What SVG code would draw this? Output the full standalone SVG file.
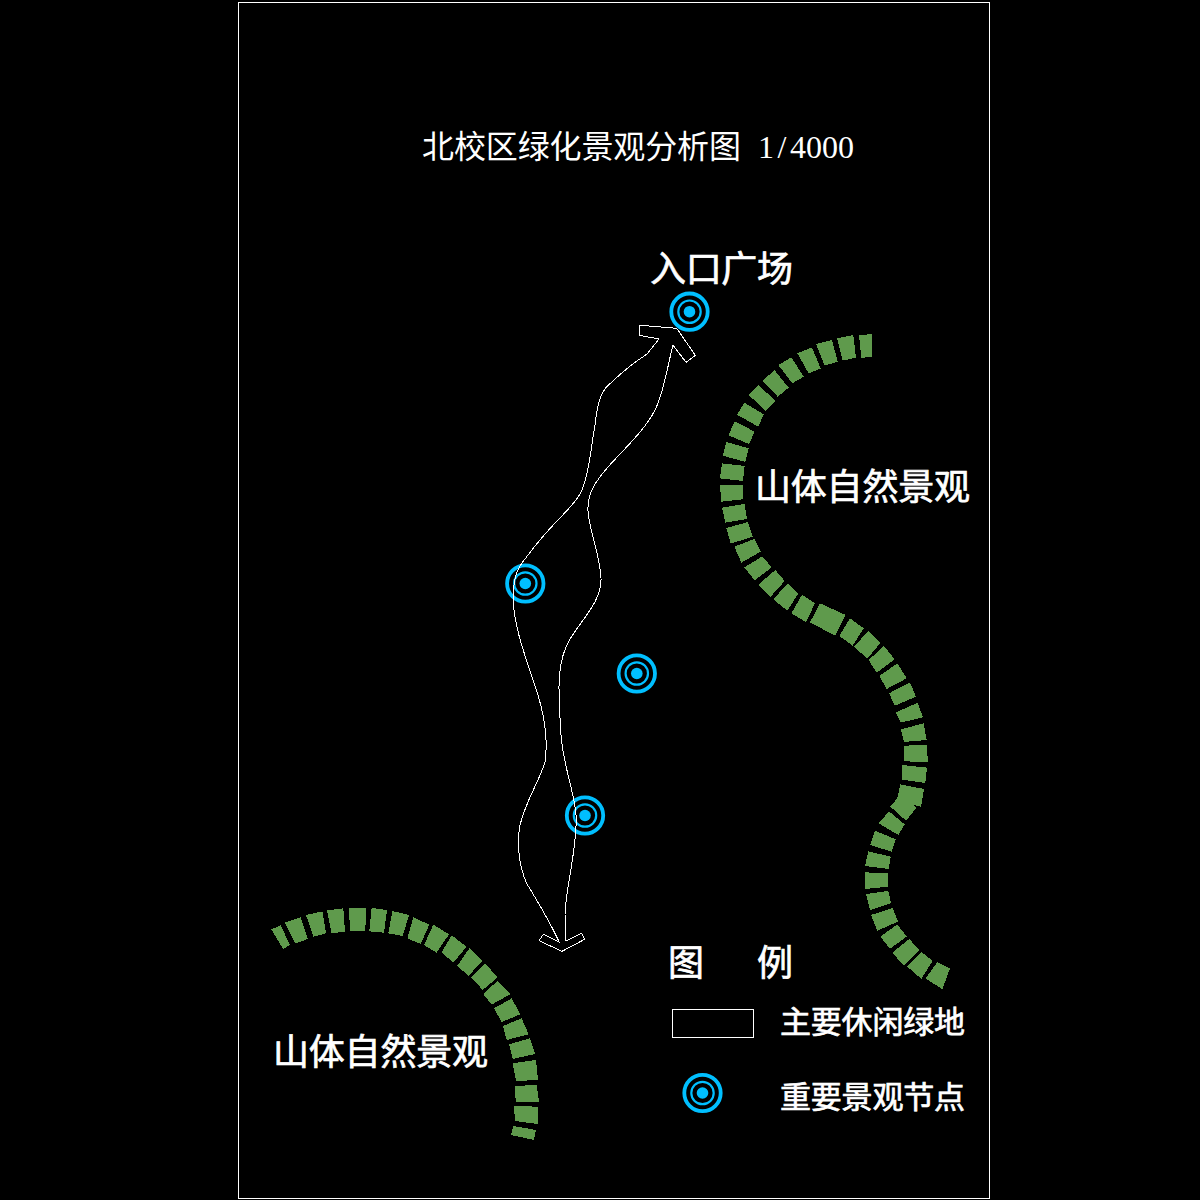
<svg xmlns="http://www.w3.org/2000/svg" xmlns:xlink="http://www.w3.org/1999/xlink" width="1200" height="1200" viewBox="0 0 1200 1200">
<style>
.line{fill:none;stroke:#fff;stroke-width:1;shape-rendering:crispEdges}
.band polygon{fill:#5f9a4c;stroke:none;shape-rendering:crispEdges}
.ringo{fill:none;stroke:#00bfff;stroke-width:3.8}
.ringi{fill:none;stroke:#00bfff;stroke-width:2.2}
.dot{fill:#00bfff}
text{fill:#fff;font-family:"Noto Sans CJK SC","Noto Sans",sans-serif}
.big{font-size:36px;font-weight:400;stroke:#fff;stroke-width:.7}
.mid{font-size:31px;font-weight:400;stroke:#fff;stroke-width:.7}
.title{font-size:32px;font-weight:400}
.num{font-family:"Liberation Serif",serif;font-size:32px}
</style>
<defs>
<g id="ring"><circle class="ringo" r="18.2"/><circle class="ringi" r="11.2"/><circle class="dot" r="5.8"/></g>
</defs>
<rect width="1200" height="1200" fill="#000"/>
<rect id="frame" class="line" x="238.5" y="2.5" width="751" height="1196"/>
<g id="band-right-upper" class="band" transform="translate(700 320) scale(.33333)">
<polygon points="477,46 515,42 516,110 484,114"/>
<polygon points="411,55 460,45 468,113 428,122"/>
<polygon points="348,72 396,60 413,125 374,137"/>
<polygon points="292,100 336,82 362,146 326,160"/>
<polygon points="235,135 274,112 311,170 277,190"/>
<polygon points="187,182 224,151 266,203 233,230"/>
<polygon points="146,225 176,196 227,243 197,272"/>
<polygon points="111,284 133,248 191,283 175,320"/>
<polygon points="85,346 104,304 164,335 147,372"/>
<polygon points="69,407 79,366 146,385 136,426"/>
<polygon points="60,475 66,430 134,438 129,483"/>
<polygon points="60,495 129,495 129,538 64,545"/>
<polygon points="66,563 134,552 141,597 76,608"/>
<polygon points="79,624 144,606 158,650 92,671"/>
<polygon points="103,680 163,657 182,695 124,728"/>
<polygon points="133,742 187,709 215,742 164,781"/>
<polygon points="174,795 226,750 254,783 212,830"/>
<polygon points="220,838 263,790 295,820 262,872"/>
</g>
<g id="band-right-lower" class="band" transform="translate(780 590) scale(.33333)">
<polygon points="34,70 66,14 105,40 78,96"/>
<polygon points="90,97 120,40 197,75 165,137"/>
<polygon points="178,138 210,85 251,115 218,167"/>
<polygon points="222,170 265,123 302,158 262,206"/>
<polygon points="266,210 312,168 344,208 290,248"/>
<polygon points="298,258 352,220 380,265 320,297"/>
<polygon points="327,310 390,277 408,320 345,347"/>
<polygon points="348,367 413,338 429,382 362,398"/>
<polygon points="363,418 431,400 440,450 372,456"/>
<polygon points="372,467 440,465 444,516 372,514"/>
<polygon points="367,525 441,533 436,579 366,569"/>
<polygon points="361,583 432,597 423,650 400,645 410,653 378,692 331,650 352,625"/>
<polygon points="296,700 327,664 374,703 355,735"/>
<polygon points="270,765 285,722 347,748 335,785"/>
<polygon points="255,828 265,784 332,800 326,837"/>
<polygon points="255,847 324,850 324,890 255,897"/>
<polygon points="258,912 325,903 333,940 270,960"/>
<polygon points="273,975 338,954 354,995 292,1022"/>
<polygon points="301,1040 352,1003 380,1040 330,1076"/>
<polygon points="337,1088 388,1047 417,1080 372,1128"/>
<polygon points="382,1130 425,1087 458,1112 424,1167"/>
<polygon points="437,1165 472,1116 510,1135 487,1198"/>
</g>
<g id="band-left" class="band" transform="translate(260 900) scale(.33333)">
<polygon points="34,88 62,76 90,135 69,147"/>
<polygon points="75,68 122,52 144,117 106,130"/>
<polygon points="138,45 187,34 198,100 160,110"/>
<polygon points="201,31 250,25 255,95 215,100"/>
<polygon points="267,25 318,25 316,93 270,93"/>
<polygon points="335,24 381,30 372,98 328,94"/>
<polygon points="397,33 447,45 428,108 385,100"/>
<polygon points="460,52 508,74 482,132 442,115"/>
<polygon points="520,74 567,103 530,158 492,135"/>
<polygon points="575,106 620,140 580,188 545,157"/>
<polygon points="628,145 668,182 625,228 592,197"/>
<polygon points="675,190 713,232 668,270 634,232"/>
<polygon points="712,243 752,282 695,314 670,282"/>
<polygon points="755,295 781,343 725,366 702,325"/>
<polygon points="785,355 806,403 740,420 729,378"/>
<polygon points="810,415 825,462 758,477 747,433"/>
<polygon points="828,480 834,540 768,543 758,490"/>
<polygon points="830,556 837,605 767,605 765,557"/>
<polygon points="834,620 833,672 765,663 762,618"/>
<polygon points="828,690 822,720 753,705 760,678"/>
</g>
<g id="node-1"><use xlink:href="#ring" href="#ring" x="689.5" y="311.7"/></g>
<g id="node-2"><use xlink:href="#ring" href="#ring" x="525.3" y="583.5"/></g>
<g id="node-3"><use xlink:href="#ring" href="#ring" x="636.8" y="673.5"/></g>
<g id="node-4"><use xlink:href="#ring" href="#ring" x="585" y="815.5"/></g>
<g id="connectors">
<path id="green-corridor" class="line" d="M673,345 C667,368 664,392 655,410 C645,430 625,448 608,467 C596,481 587,493 588,511 C589,530 600,555 601,578 C602,605 575,625 566,647 C556,670 559,700 561,735 C563,765 574,790 576,815 C578,845 566,885 565,915 L566,941 L581.7,933.3 L584.7,939.3 L562,951.3 L539,940.7 L543.3,934.3 L559.3,942.3 C549,920 538,902 527,884 C518,865 517,840 520,825 C526,800 540,780 545,762 C549,735 542,705 533,680 C525,655 515,630 513,600 C513,585 515,572 522,563 C530,552 545,533 560,518 C570,507 578,500 582,490 C590,470 592,440 595,425 C598,400 601,390 612,382 C622,372 635,362 647,354 L659,339 L639.3,335.3 L640,325.3 L676.7,328.3 L695.3,355.3 L686,362.3 Z"/>
</g>
<g id="title"><text class="title" x="422" y="158" textLength="319" lengthAdjust="spacing">北校区绿化景观分析图</text><text class="num" x="758 777.5 790 806 822 838" y="158">1/4000</text></g>
<g id="label-entrance"><text class="big" x="650" y="282" textLength="143">入口广场</text></g>
<g id="label-mountain-right"><text class="big" x="755" y="500" textLength="215">山体自然景观</text></g>
<g id="label-mountain-left"><text class="big" x="273" y="1065" textLength="215">山体自然景观</text></g>
<g id="legend">
<text class="big" x="668" y="976">图</text>
<text class="big" x="757" y="976">例</text>
<rect class="line" x="672.5" y="1009.5" width="81" height="28"/>
<text class="mid" x="780" y="1033" textLength="185">主要休闲绿地</text>
<use xlink:href="#ring" href="#ring" x="702.5" y="1093"/>
<text class="mid" x="780" y="1108" textLength="185">重要景观节点</text>
</g>
</svg>
